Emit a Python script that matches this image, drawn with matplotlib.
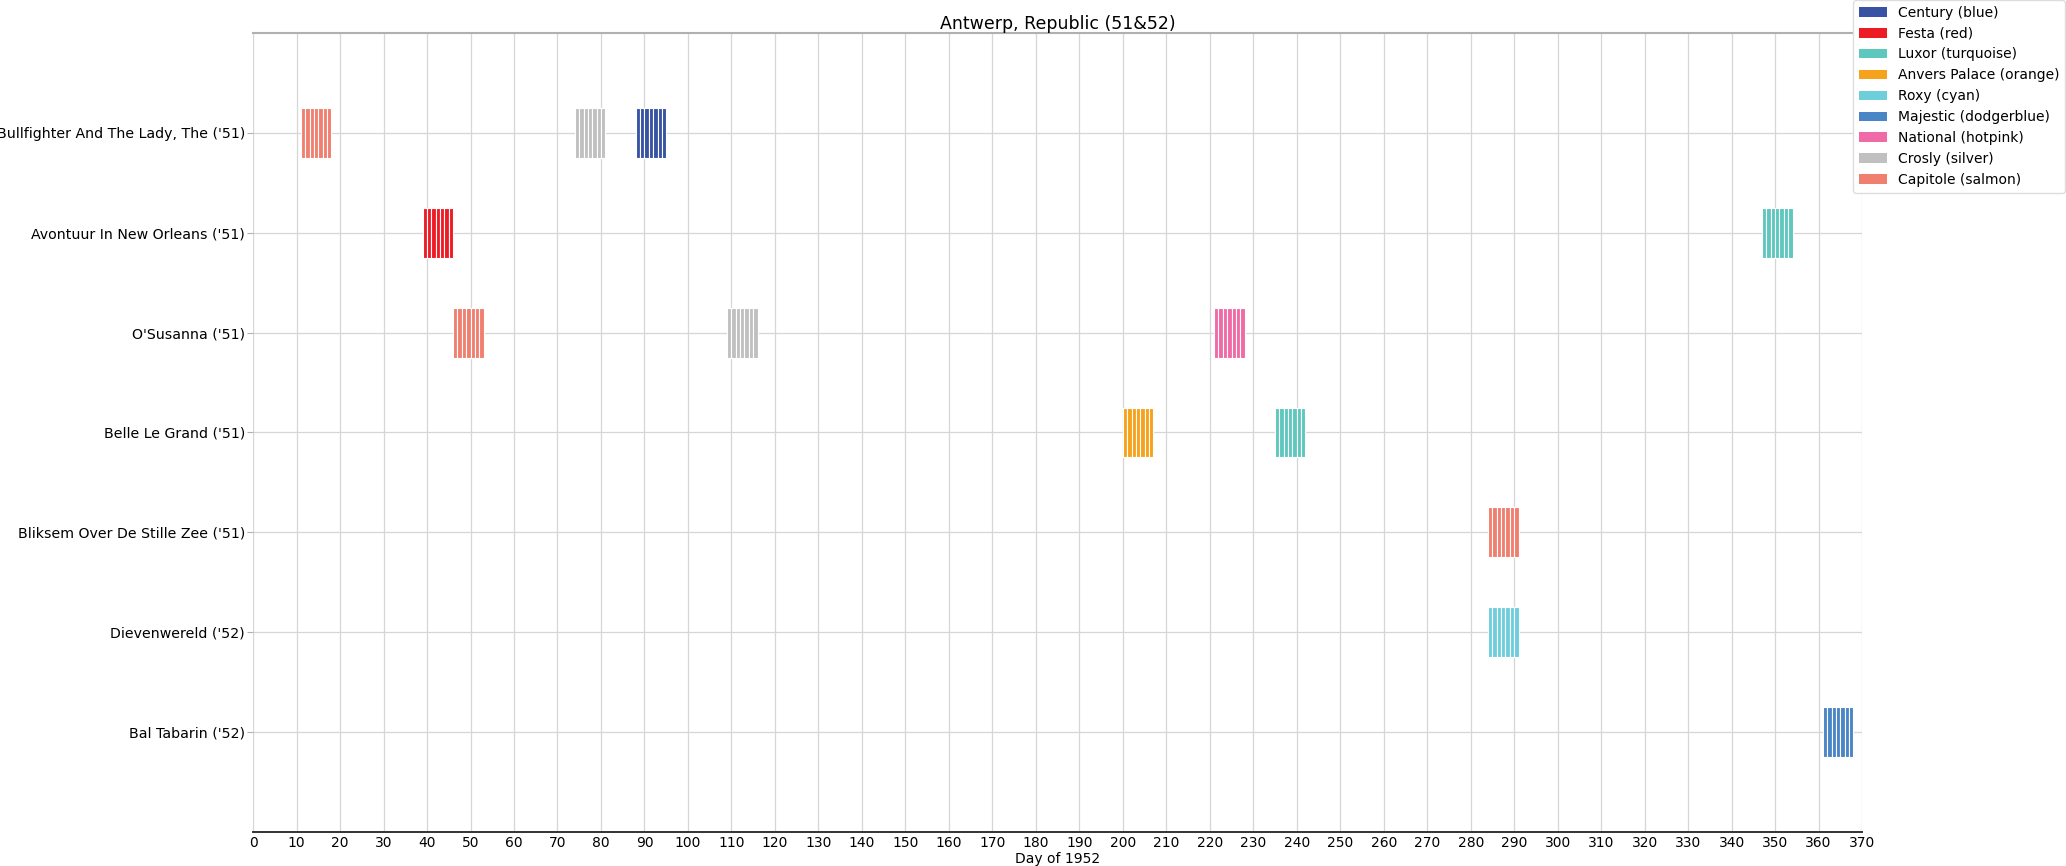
import numpy as np
import matplotlib
matplotlib.use("Agg")
import matplotlib.pyplot as plt
from matplotlib.patches import Patch

# ---- data ----
films = [
    "Bullfighter And The Lady, The ('51)",
    "Avontuur In New Orleans ('51)",
    "O'Susanna ('51)",
    "Belle Le Grand ('51)",
    "Bliksem Over De Stille Zee ('51)",
    "Dievenwereld ('52)",
    "Bal Tabarin ('52)",
]

cinemas = ["Century", "Festa", "Luxor", "Anvers Palace", "Roxy",
           "Majestic", "National", "Crosly", "Capitole"]
cinema_color_names = ["blue", "red", "turquoise", "orange", "cyan",
                      "dodgerblue", "hotpink", "silver", "salmon"]
cinema_colors = ["#3953a4", "#ed1c24", "#5ec7be", "#f7a21c", "#6fcedc",
                 "#4a85c5", "#ef6aa6", "#c0c0c0", "#f07f70"]

# screening runs: film, cinema, first day (day of 1952), number of days
run_film = [0, 0, 0, 1, 1, 2, 2, 2, 3, 3, 4, 5, 6]
run_cinema = ["Capitole", "Crosly", "Century", "Festa", "Luxor",
              "Capitole", "Crosly", "National", "Anvers Palace", "Luxor",
              "Capitole", "Roxy", "Majestic"]
run_start = [11, 74, 88, 39, 347, 46, 109, 221, 200, 235, 284, 284, 361]
run_length = [7, 7, 7, 7, 7, 7, 7, 7, 7, 7, 7, 7, 7]

x_ticks = list(range(0, 371, 10))

# ---- figure ----
fig = plt.figure(figsize=(20.66, 8.66), dpi=100)
ax = fig.add_axes([0.1225, 0.0393, 0.7788, 0.9226])

color_of = dict(zip(cinemas, cinema_colors))
for f, c, s, n in zip(run_film, run_cinema, run_start, run_length):
    days = s + np.arange(n)
    ax.bar(days, 0.5, width=1.0, bottom=f - 0.25, align="edge",
           color=color_of[c], edgecolor="white", linewidth=0.8, zorder=3)

ax.set_xlim(0, 370)
ax.set_ylim(7, -1)
ax.set_xticks(x_ticks)
ax.set_xticklabels([str(t) for t in x_ticks], fontsize=10)
ax.set_yticks(range(len(films)))
ax.set_yticklabels(films, fontsize=10.2)
ax.tick_params(axis="x", length=0, pad=3)
ax.tick_params(axis="y", length=4, color="#b0b0b0", pad=2)

ax.grid(True, color="#d6d6d6", linewidth=0.9, zorder=0)
ax.set_axisbelow(True)
for side in ["left", "right"]:
    ax.spines[side].set_visible(False)
ax.spines["top"].set_color("#b0b0b0")
ax.spines["top"].set_linewidth(1.5)
ax.spines["bottom"].set_color("#333333")
ax.spines["bottom"].set_linewidth(1.4)

ax.set_title("Antwerp, Republic (51&52)", fontsize=12.5, pad=3)
ax.set_xlabel("Day of 1952", fontsize=10, labelpad=1)

handles = [Patch(facecolor=col, edgecolor="none") for col in cinema_colors]
labels = [f"{c} ({cn})" for c, cn in zip(cinemas, cinema_color_names)]
fig.legend(handles, labels, loc="upper right", bbox_to_anchor=(0.9995, 1.0),
           fontsize=10, borderaxespad=0, framealpha=1.0, edgecolor="#dddddd")

fig.savefig("out.png", dpi=100)
